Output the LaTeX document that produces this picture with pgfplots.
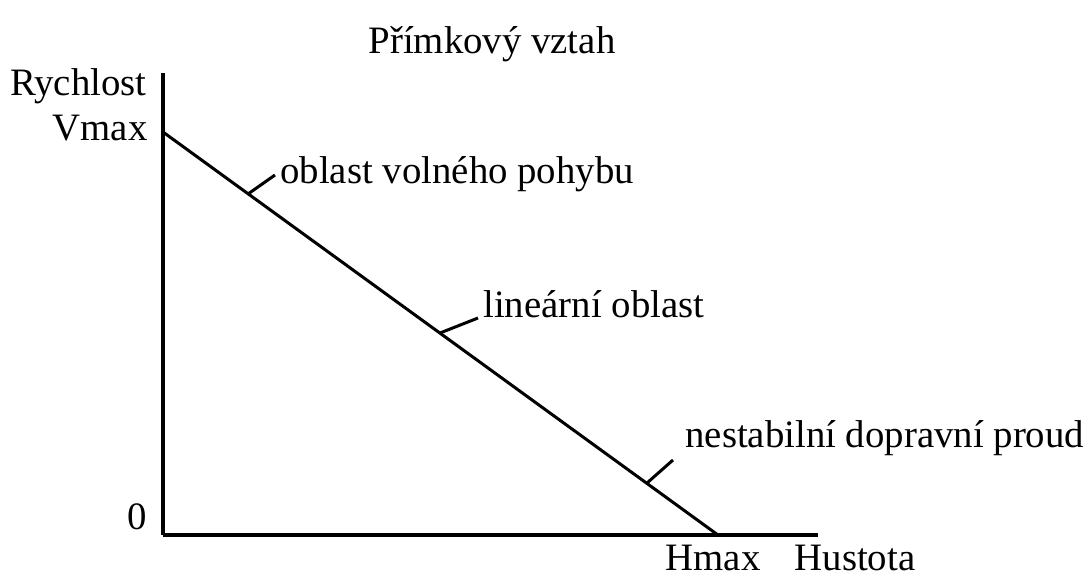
\documentclass[border=0pt]{standalone}
\usepackage{pgfplots}
\pgfplotsset{compat=1.18}
\usepackage{fontspec}
\setmainfont{Liberation Serif}
\begin{document}
\fontsize{19.4}{23}\selectfont
\begin{tikzpicture}
\begin{axis}[
  scale only axis,
  x=0.5pt, y=0.5pt,
  xmin=0, xmax=655, ymin=0, ymax=462,
  axis lines=left,
  axis line style={-, line width=1.6pt},
  xtick=\empty, ytick=\empty,
  clip=false,
]
% corners of the figure area
\coordinate (bl) at (axis cs:-163,-40);
\coordinate (tr) at (axis cs:926,535);
% speed-density relation
\addplot[black, line width=1.5pt] coordinates {(0,403) (555,0)};
% leader lines to the labels
\addplot[black, line width=1.5pt] coordinates {(85,341) (112,360)};
\addplot[black, line width=1.5pt] coordinates {(277,202) (315,217)};
\addplot[black, line width=1.5pt] coordinates {(484,52) (510,75)};
\node[inner sep=0pt, anchor=base west] at (axis cs:117,352) {oblast volného pohybu};
\node[inner sep=0pt, anchor=base west] at (axis cs:320,218) {lineární oblast};
\node[inner sep=0pt, anchor=base west] at (axis cs:522,88) {nestabilní dopravní proud};
% title and axis annotations
\node[inner sep=0pt, anchor=base] at (axis cs:329,482) {Přímkový vztah};
\node[inner sep=0pt, anchor=base east] at (axis cs:-16,440) {Rychlost};
\node[inner sep=0pt, anchor=base east] at (axis cs:-15,395) {Vmax};
\node[inner sep=0pt, anchor=base] at (axis cs:-26,6) {0};
\node[inner sep=0pt, anchor=base] at (axis cs:550,-35) {Hmax};
\node[inner sep=0pt, anchor=base] at (axis cs:692,-35) {Hustota};
\end{axis}
\pgfresetboundingbox
\path (bl) rectangle (tr);
\end{tikzpicture}
\end{document}
